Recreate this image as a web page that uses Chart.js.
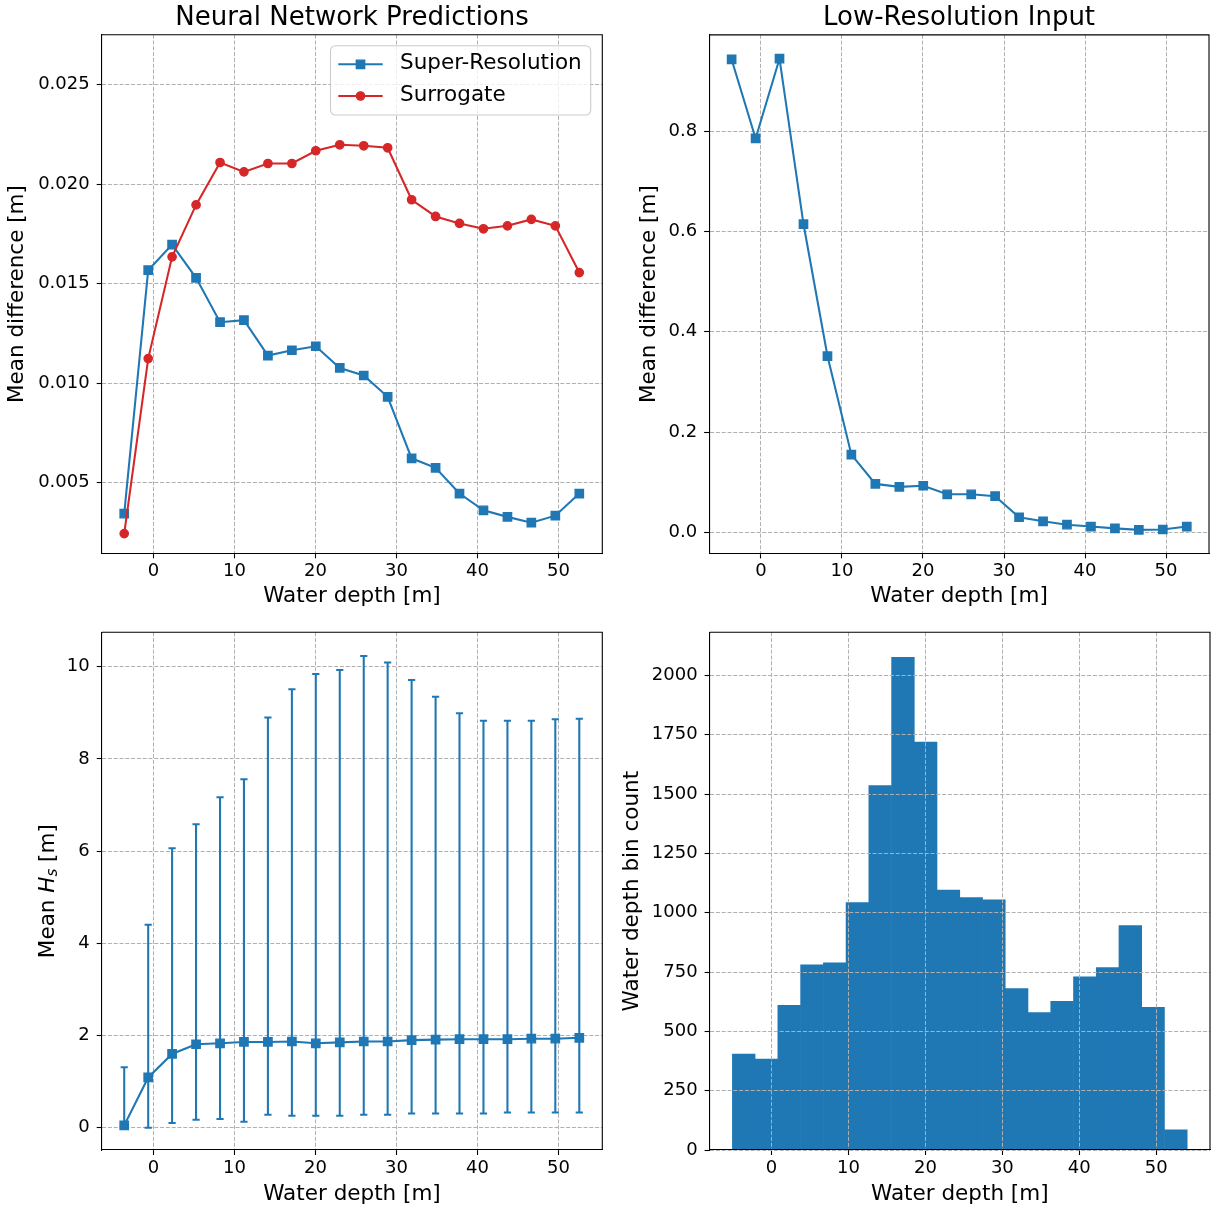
<!DOCTYPE html>
<html>
<head>
<meta charset="utf-8">
<script src="https://cdn.jsdelivr.net/npm/chart.js@4.4.1/dist/chart.umd.min.js"></script>
<style>
  html, body { margin: 0; padding: 0; background: #ffffff; }
  #wrap { position: relative; width: 1214px; height: 1209px; overflow: hidden; background: #fff; }
  canvas { position: absolute; }
</style>
</head>
<body>
<div id="wrap">
  <canvas id="cTL" width="607" height="613" style="left:0px;top:0px;"></canvas>
  <canvas id="cTR" width="607" height="613" style="left:607px;top:0px;"></canvas>
  <canvas id="cBL" width="607" height="596" style="left:0px;top:613px;"></canvas>
  <canvas id="cBR" width="607" height="596" style="left:607px;top:613px;"></canvas>
</div>
<script>
// ---------------- data ----------------
const depthBins = [-3.62, -0.66, 2.29, 5.25, 8.21, 11.16, 14.12, 17.08, 20.03, 22.99,
                   25.95, 28.90, 31.86, 34.82, 37.77, 40.73, 43.69, 46.64, 49.60, 52.56];

const superResDiff = [0.00344, 0.01567, 0.01696, 0.01529, 0.01306, 0.01316, 0.01138, 0.01165, 0.01185, 0.01076,
                      0.01038, 0.00931, 0.00622, 0.00574, 0.00445, 0.00361, 0.00328, 0.00299, 0.00334, 0.00445];
const surrogateDiff = [0.00244, 0.01123, 0.01634, 0.01895, 0.02108, 0.02061, 0.02103, 0.02103, 0.02167, 0.02197,
                       0.02192, 0.02182, 0.01921, 0.01837, 0.01802, 0.01775, 0.01790, 0.01822, 0.01790, 0.01555];
const lowResDiff = [0.9426, 0.7852, 0.9441, 0.6146, 0.3516, 0.1551, 0.0968, 0.0909, 0.0931, 0.0761,
                    0.0761, 0.0724, 0.0303, 0.0222, 0.0155, 0.0118, 0.0081, 0.0052, 0.0059, 0.0118];
const meanHs = [0.05, 1.09, 1.60, 1.81, 1.83, 1.86, 1.86, 1.87, 1.83, 1.85,
                1.87, 1.87, 1.90, 1.91, 1.92, 1.92, 1.92, 1.93, 1.93, 1.95];
const hsLow  = [0.00, 0.00, 0.10, 0.17, 0.19, 0.13, 0.28, 0.26, 0.26, 0.26,
                0.28, 0.28, 0.31, 0.31, 0.31, 0.31, 0.33, 0.33, 0.33, 0.33];
const hsHigh = [1.31, 4.40, 6.06, 6.58, 7.17, 7.56, 8.90, 9.51, 9.84, 9.93,
                10.23, 10.09, 9.71, 9.35, 8.99, 8.83, 8.83, 8.83, 8.86, 8.87];
const binCounts = [404, 383, 610, 780, 789, 1043, 1536, 2076, 1719, 1095,
                   1064, 1054, 680, 579, 627, 730, 769, 946, 601, 85];

// tick values and labels
const depthTicks = [0, 10, 20, 30, 40, 50];
const depthTickLabels = ['0', '10', '20', '30', '40', '50'];
const diffTicks = [0.005, 0.010, 0.015, 0.020, 0.025];
const diffTickLabels = ['0.005', '0.010', '0.015', '0.020', '0.025'];
const lowResTicks = [0.0, 0.2, 0.4, 0.6, 0.8];
const lowResTickLabels = ['0.0', '0.2', '0.4', '0.6', '0.8'];
const hsTicks = [0, 2, 4, 6, 8, 10];
const hsTickLabels = ['0', '2', '4', '6', '8', '10'];
const countTicks = [0, 250, 500, 750, 1000, 1250, 1500, 1750, 2000];
const countTickLabels = ['0', '250', '500', '750', '1000', '1250', '1500', '1750', '2000'];

const seriesNames = ['Super-Resolution', 'Surrogate'];
const panelTitles = ['Neural Network Predictions', 'Low-Resolution Input'];

// ---------------- styles ----------------
const BLUE = '#1f77b4', RED = '#d62728', GRID = '#b0b0b0';
const FAMILY = '"DejaVu Sans", sans-serif';
const LABEL_PX = 21.5;
const TICK_FONT = { family: FAMILY, size: 18 };
const LABEL_FONT = { family: FAMILY, size: LABEL_PX };
Chart.defaults.font.family = FAMILY;
Chart.defaults.color = '#000';
Chart.defaults.animation = false;

function makeX(min, max, axisHeight, titleBottom, gridZ) {
  return {
    type: 'linear', min: min, max: max, bounds: 'data', offset: false,
    afterBuildTicks: s => { s.ticks = depthTicks.map(v => ({ value: v })); },
    afterFit: s => { s.height = axisHeight; },
    ticks: { font: TICK_FONT, color: '#000', padding: 2.4, autoSkip: false, maxRotation: 0, minRotation: 0,
             callback: (v, i) => depthTickLabels[i] },
    grid: { color: GRID, lineWidth: 1, tickLength: 5, tickColor: '#000', tickWidth: 1.1, offset: false, z: gridZ },
    border: { display: true, color: '#000', width: 1.1, dash: [4, 1.8], z: gridZ > 0 ? 2 : 0 },
    title: { display: true, text: 'Water depth [m]', font: LABEL_FONT, color: '#000', padding: { top: 0, bottom: titleBottom } }
  };
}
function makeY(min, max, ticks, labels, axisWidth, titleText, titleTop, gridZ) {
  return {
    type: 'linear', min: min, max: max, bounds: 'data',
    afterBuildTicks: s => { s.ticks = ticks.map(v => ({ value: v })); },
    afterFit: s => { s.width = axisWidth; },
    ticks: { font: TICK_FONT, color: '#000', padding: 7, autoSkip: false, callback: (v, i) => labels[i] },
    grid: { color: GRID, lineWidth: 1, tickLength: 5, tickColor: '#000', tickWidth: 1.1, z: gridZ },
    border: { display: true, color: '#000', width: 1.1, dash: [4, 1.8], z: gridZ > 0 ? 2 : 0 },
    title: { display: !!titleText, text: titleText || '', font: LABEL_FONT, color: '#000', padding: { top: titleTop, bottom: 0 } }
  };
}

// frame (top + right spines) and optional panel title
const framePlugin = {
  id: 'frame',
  afterDraw(chart, args, opts) {
    const { ctx, chartArea: a } = chart;
    ctx.save();
    ctx.strokeStyle = '#000';
    ctx.lineWidth = 1.1;
    ctx.beginPath();
    ctx.moveTo(a.left, a.top); ctx.lineTo(a.right, a.top); ctx.lineTo(a.right, a.bottom);
    ctx.stroke();
    if (opts && opts.title) {
      ctx.fillStyle = '#000';
      ctx.font = '26px ' + FAMILY;
      ctx.textAlign = 'center';
      ctx.textBaseline = 'middle';
      ctx.fillText(opts.title, (a.left + a.right) / 2, 17.9);
    }
    ctx.restore();
  }
};

function drawMarker(ctx, style, x, y, color) {
  ctx.fillStyle = color; ctx.strokeStyle = color; ctx.lineWidth = 1.4;
  ctx.beginPath();
  if (style === 'rect') { const h = 4.15; ctx.rect(x - h, y - h, 2 * h, 2 * h); }
  else { ctx.arc(x, y, 4.15, 0, Math.PI * 2); }
  ctx.fill(); ctx.stroke();
}

// matplotlib-like legend box (line + marker handles)
const legendPlugin = {
  id: 'mplLegend',
  afterDatasetsDraw(chart) {
    const { ctx, chartArea: a } = chart;
    const w = 260.2, h = 69.3, r = 5;
    const x0 = a.right - 11.6 - w, y0 = a.top + 11;
    ctx.save();
    ctx.beginPath();
    ctx.moveTo(x0 + r, y0); ctx.lineTo(x0 + w - r, y0); ctx.arcTo(x0 + w, y0, x0 + w, y0 + r, r);
    ctx.lineTo(x0 + w, y0 + h - r); ctx.arcTo(x0 + w, y0 + h, x0 + w - r, y0 + h, r);
    ctx.lineTo(x0 + r, y0 + h); ctx.arcTo(x0, y0 + h, x0, y0 + h - r, r);
    ctx.lineTo(x0, y0 + r); ctx.arcTo(x0, y0, x0 + r, y0, r);
    ctx.closePath();
    ctx.fillStyle = 'rgba(255,255,255,0.8)'; ctx.fill();
    ctx.lineWidth = 1.1; ctx.strokeStyle = '#cccccc'; ctx.stroke();
    chart.data.datasets.forEach((ds, i) => {
      const y = y0 + 18.6 + i * 31.7;
      ctx.strokeStyle = ds.borderColor; ctx.lineWidth = 2.08;
      ctx.beginPath(); ctx.moveTo(x0 + 7.8, y); ctx.lineTo(x0 + 52.2, y); ctx.stroke();
      drawMarker(ctx, ds.pointStyle, x0 + 30, y, ds.borderColor);
      ctx.fillStyle = '#000'; ctx.font = LABEL_PX + 'px ' + FAMILY;
      ctx.textAlign = 'left'; ctx.textBaseline = 'middle';
      ctx.fillText(ds.label, x0 + 69.5, y - 0.5);
    });
    ctx.restore();
  }
};

// y label with italic H and subscript s
const hsLabelPlugin = {
  id: 'hsLabel',
  afterDraw(chart) {
    const { ctx, chartArea: a } = chart;
    const parts = [
      { t: 'Mean ', f: LABEL_PX + 'px ' + FAMILY, dy: 0 },
      { t: 'H', f: 'italic ' + LABEL_PX + 'px ' + FAMILY, dy: 0 },
      { t: 's', f: 'italic ' + (LABEL_PX * 0.7).toFixed(2) + 'px ' + FAMILY, dy: 3.2 },
      { t: ' [m]', f: LABEL_PX + 'px ' + FAMILY, dy: 0 }
    ];
    ctx.save();
    let total = 0;
    parts.forEach(p => { ctx.font = p.f; p.w = ctx.measureText(p.t).width; total += p.w; });
    ctx.translate(46.2, (a.top + a.bottom) / 2);
    ctx.rotate(-Math.PI / 2);
    ctx.fillStyle = '#000';
    ctx.textAlign = 'left';
    ctx.textBaseline = 'alphabetic';
    let x = -total / 2;
    const base = 0.346 * LABEL_PX;
    parts.forEach(p => { ctx.font = p.f; ctx.fillText(p.t, x, base + p.dy); x += p.w; });
    ctx.restore();
  }
};

const pts = (ys) => depthBins.map((x, i) => ({ x: x, y: ys[i] }));
const common = { responsive: false, events: [], plugins: { legend: { display: false }, tooltip: { enabled: false } } };

// ---------------- Top-left: Neural Network Predictions ----------------
new Chart(document.getElementById('cTL'), {
  type: 'scatter',
  data: { datasets: [
    { label: seriesNames[0], data: pts(superResDiff), showLine: true, borderColor: BLUE, backgroundColor: BLUE,
      borderWidth: 2.08, pointStyle: 'rect', pointRadius: 5.87, pointBorderWidth: 1.4,
      pointBackgroundColor: BLUE, pointBorderColor: BLUE, order: 2 },
    { label: seriesNames[1], data: pts(surrogateDiff), showLine: true, borderColor: RED, backgroundColor: RED,
      borderWidth: 2.08, pointStyle: 'circle', pointRadius: 4.15, pointBorderWidth: 1.4,
      pointBackgroundColor: RED, pointBorderColor: RED, order: 1 }
  ]},
  options: Object.assign({}, common, {
    layout: { autoPadding: false, padding: { left: 0, right: 4.7, top: 34.7, bottom: 0 } },
    plugins: Object.assign({}, common.plugins, { frame: { title: panelTitles[0] } }),
    scales: {
      x: makeX(-6.4, 55.4, 59.7, 4.1, -1),
      y: makeY(0.00145, 0.0275, diffTicks, diffTickLabels, 101.7, 'Mean difference [m]', 4.3, -1)
    }
  }),
  plugins: [framePlugin, legendPlugin]
});

// ---------------- Top-right: Low-Resolution Input ----------------
new Chart(document.getElementById('cTR'), {
  type: 'scatter',
  data: { datasets: [
    { label: 'Low-Resolution', data: pts(lowResDiff), showLine: true, borderColor: BLUE, backgroundColor: BLUE,
      borderWidth: 2.08, pointStyle: 'rect', pointRadius: 5.87, pointBorderWidth: 1.4,
      pointBackgroundColor: BLUE, pointBorderColor: BLUE }
  ]},
  options: Object.assign({}, common, {
    layout: { autoPadding: false, padding: { left: 0, right: 5, top: 34.9, bottom: 0 } },
    plugins: Object.assign({}, common.plugins, { frame: { title: panelTitles[1] } }),
    scales: {
      x: makeX(-6.4, 55.3, 59.6, 4.1, -1),
      y: makeY(-0.0417, 0.9915, lowResTicks, lowResTickLabels, 102.1, 'Mean difference [m]', 29.8, -1)
    }
  }),
  plugins: [framePlugin]
});

// ---------------- Bottom-left: Mean Hs with error bars ----------------
const errSegments = [];
depthBins.forEach((x, i) => {
  errSegments.push({ x: x, y: hsLow[i] }, { x: x, y: hsHigh[i] }, { x: x, y: null });
});
new Chart(document.getElementById('cBL'), {
  type: 'scatter',
  data: { datasets: [
    { label: 'Mean Hs', data: pts(meanHs), showLine: true, borderColor: BLUE, backgroundColor: BLUE,
      borderWidth: 2.08, pointStyle: 'rect', pointRadius: 5.87, pointBorderWidth: 1.4,
      pointBackgroundColor: BLUE, pointBorderColor: BLUE, order: 1 },
    { label: 'range', data: errSegments, showLine: true, spanGaps: false, borderColor: BLUE, backgroundColor: BLUE,
      borderWidth: 2.08, pointStyle: 'line', pointRadius: 3.6, pointBorderWidth: 2,
      pointBackgroundColor: BLUE, pointBorderColor: BLUE, order: 2 }
  ]},
  options: Object.assign({}, common, {
    layout: { autoPadding: false, padding: { left: 0, right: 4.7, top: 19.3, bottom: 0 } },
    scales: {
      x: makeX(-6.4, 55.4, 59, 1.9, -1),
      y: makeY(-0.484, 10.746, hsTicks, hsTickLabels, 101.7, null, 0, -1)
    }
  }),
  plugins: [framePlugin, hsLabelPlugin]
});

// ---------------- Bottom-right: histogram of water depth ----------------
new Chart(document.getElementById('cBR'), {
  type: 'bar',
  data: { datasets: [
    { label: 'count', data: pts(binCounts), backgroundColor: BLUE, borderWidth: 0,
      barPercentage: 1.0, categoryPercentage: 1.0 }
  ]},
  options: Object.assign({}, common, {
    layout: { autoPadding: false, padding: { left: 0, right: 4, top: 19.3, bottom: 0 } },
    scales: {
      x: makeX(-8.06, 57.0, 59, 1.9, 1),
      y: makeY(0, 2182, countTicks, countTickLabels, 102.6, 'Water depth bin count', 12.3, 1)
    }
  }),
  plugins: [framePlugin]
});
</script>
</body>
</html>
